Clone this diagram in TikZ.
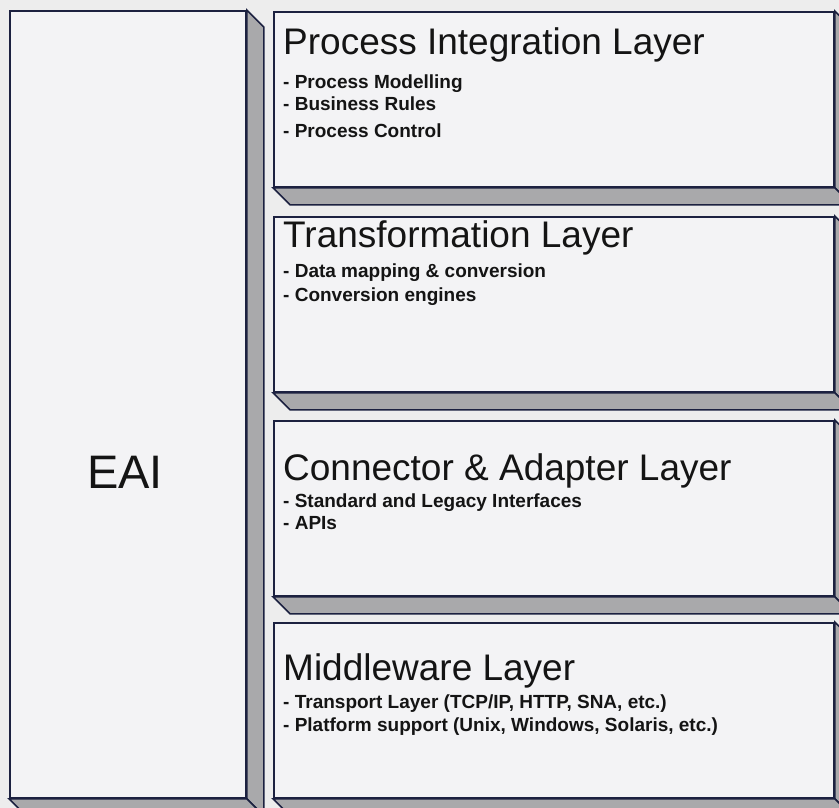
\documentclass[tikz,border=0pt]{standalone}
\usepackage{fontspec}
\setmainfont{Liberation Sans}
\definecolor{paper}{HTML}{EDEDED}
\definecolor{faceclr}{HTML}{F3F3F5}
\definecolor{sideclr}{HTML}{A9A9AB}
\definecolor{edgeclr}{HTML}{1C2140}
\definecolor{inkclr}{HTML}{141414}
\tikzstyle{layerbox} = [draw=edgeclr,line width=1.8pt,fill=faceclr,rectangle,inner sep=0pt]
\tikzstyle{sideface} = [draw=edgeclr,line width=1.6pt,fill=sideclr,line join=miter]
\tikzstyle{title} = [anchor=base west,inner sep=0pt,text=inkclr,font=\fontsize{37bp}{40bp}\selectfont]
\tikzstyle{item} = [anchor=base west,inner sep=0pt,text=inkclr,font=\fontsize{19bp}{22bp}\selectfont\bfseries]
\begin{document}
\begin{tikzpicture}[x=1bp,y=-1bp]
    \useasboundingbox (0,0) rectangle (839,808);
    \fill[paper] (0,0) rectangle (839,808);
    \clip (0,0) rectangle (839,808);
    %% EAI column
    \node[layerbox, minimum width=236bp, minimum height=787bp] (eai) at (128,404.5) {};
    \path[sideface] (eai.north east) -- ++(17,17) -- ([shift={(17,17)}]eai.south east) -- (eai.south east) -- cycle;
    \path[sideface] (eai.south west) -- ++(17,17) -- ([shift={(17,17)}]eai.south east) -- (eai.south east) -- cycle;
    \node[text=inkclr, font=\fontsize{47bp}{50bp}\selectfont] (eaitext) at (125,472) {EAI};
    %% layers, top to bottom
    \foreach \name/\top/\base/\title in {
      process/12/55/Process Integration Layer,
      transform/217/247/Transformation Layer,
      connector/421/480/Connector \& Adapter Layer,
      middleware/623/680/Middleware Layer}
    {
      \node[layerbox, minimum width=560bp, minimum height=175bp] (\name) at (554,\top+87.5) {};
      \path[sideface] (\name.north east) -- ++(17,17) -- ([shift={(17,17)}]\name.south east) -- (\name.south east) -- cycle;
      \path[sideface] (\name.south west) -- ++(17,17) -- ([shift={(17,17)}]\name.south east) -- (\name.south east) -- cycle;
      \node[title] (\name-title) at (283,\base) {\title};
    }
    %% bullet lines
    \foreach \name/\y/\text in {
      pi1/88/- Process Modelling,
      pi2/110/- Business Rules,
      pi3/137/- Process Control,
      tr1/277/- Data mapping \& conversion,
      tr2/301/- Conversion engines,
      ca1/507/- Standard and Legacy Interfaces,
      ca2/529/- APIs,
      mw1/708/{- Transport Layer (TCP/IP, HTTP, SNA, etc.)},
      mw2/731/{- Platform support (Unix, Windows, Solaris, etc.)}}
    {
      \node[item] (\name) at (283,\y) {\text};
    }
  \end{tikzpicture}
\end{document}
